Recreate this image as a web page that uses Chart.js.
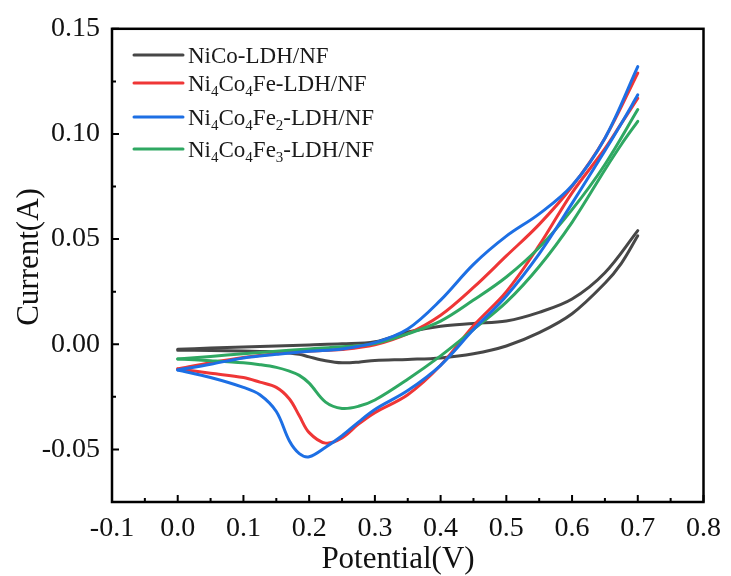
<!DOCTYPE html>
<html lang="en">
<head>
  <meta charset="UTF-8" />
  <title>CV curves</title>
  <script src="https://cdn.jsdelivr.net/npm/chart.js"></script>
  <style>
    body {
      margin: 0;
      background: #fff;
    }
    #cv {
      display: block;
    }
  </style>
</head>
<body>

<canvas id="cv" width="731" height="576"></canvas>

<script>
const seriesNames = ['NiCo-LDH/NF', 'Ni4Co4Fe-LDH/NF', 'Ni4Co4Fe2-LDH/NF', 'Ni4Co4Fe3-LDH/NF'];
const seriesColors = ['#474747', '#ef3636', '#1d6fe4', '#2fa862'];

// potential (V) of the forward and backward sweep
const potentialFwd = [0, 0.05, 0.1, 0.15, 0.2, 0.25, 0.3, 0.35, 0.4, 0.45, 0.5, 0.55, 0.6, 0.65, 0.7];
const potentialRev = [0.7, 0.675, 0.65, 0.6, 0.55, 0.5, 0.45, 0.4, 0.35, 0.3, 0.275, 0.25, 0.225, 0.2, 0.185, 0.17, 0.15, 0.125, 0.1, 0.05, 0];

// current (A)
const nicoFwd = [-0.0024, -0.0018, -0.0013, -0.0008, -0.0003, 0.0002, 0.0012, 0.0058, 0.0086, 0.0099, 0.0111, 0.0152, 0.0215, 0.034, 0.054];
const nicoRev = [0.0516, 0.0385, 0.029, 0.0145, 0.0055, -0.0008, -0.0045, -0.0065, -0.0072, -0.0077, -0.0085, -0.0088, -0.0078, -0.006, -0.0048, -0.0041, -0.0036, -0.0034, -0.0032, -0.003, -0.0028];

const fe1Fwd = [-0.0117, -0.0088, -0.0063, -0.0045, -0.0033, -0.0025, -0.0003, 0.005, 0.0138, 0.027, 0.042, 0.057, 0.075, 0.098, 0.129];
const fe1Rev = [0.117, 0.105, 0.093, 0.072, 0.047, 0.025, 0.0088, -0.010, -0.024, -0.0325, -0.038, -0.0445, -0.047, -0.042, -0.034, -0.026, -0.0205, -0.018, -0.0158, -0.0138, -0.0117];

const fe2Fwd = [-0.0122, -0.0095, -0.0065, -0.0048, -0.0033, -0.0022, 0.0008, 0.0073, 0.021, 0.038, 0.0514, 0.062, 0.0755, 0.098, 0.132];
const fe2Rev = [0.1186, 0.105, 0.092, 0.067, 0.043, 0.023, 0.007, -0.010, -0.022, -0.031, -0.037, -0.0435, -0.049, -0.0535, -0.052, -0.046, -0.032, -0.024, -0.0205, -0.0158, -0.0122];

const fe3Fwd = [-0.007, -0.0058, -0.0045, -0.0033, -0.0022, -0.0012, 0.0003, 0.005, 0.011, 0.021, 0.032, 0.046, 0.064, 0.0855, 0.1116];
const fe3Rev = [0.106, 0.095, 0.083, 0.058, 0.037, 0.020, 0.007, -0.0055, -0.0166, -0.0265, -0.0295, -0.0305, -0.0275, -0.0185, -0.0148, -0.0128, -0.011, -0.0097, -0.0088, -0.0078, -0.007];

const forward = [nicoFwd, fe1Fwd, fe2Fwd, fe3Fwd];
const reverse = [nicoRev, fe1Rev, fe2Rev, fe3Rev];
const drawOrder = [4, 3, 1, 2]; // blue on top, black at the back

const serif = "'Liberation Serif', 'Times New Roman', serif";
Chart.defaults.font.family = serif;
Chart.defaults.color = '#111';

function toPoints(xs, ys) {
  return xs.map((v, i) => ({ x: v, y: ys[i] }));
}

const datasets = [];
seriesNames.forEach((name, i) => {
  [toPoints(potentialFwd, forward[i]), toPoints(potentialRev, reverse[i])].forEach(pts => {
    datasets.push({
      label: name,
      data: pts,
      showLine: true,
      borderColor: seriesColors[i],
      backgroundColor: seriesColors[i],
      borderWidth: 3,
      pointRadius: 0,
      tension: 0.35,
      borderCapStyle: 'round',
      borderJoinStyle: 'round',
      order: drawOrder[i]
    });
  });
});

function isMajor(v, step) {
  const r = v / step;
  return Math.abs(r - Math.round(r)) < 1e-6;
}

// draw label text with digits as subscripts
function drawSubText(ctx, text, x, y) {
  let cx = x;
  for (const ch of text) {
    if (/[0-9]/.test(ch)) {
      ctx.font = '15px ' + serif;
      ctx.fillText(ch, cx, y + 5);
    } else {
      ctx.font = '23px ' + serif;
      ctx.fillText(ch, cx, y);
    }
    cx += ctx.measureText(ch).width;
  }
}

const frame = {
  id: 'frame',
  afterDraw(chart) {
    const { ctx, chartArea: a, scales: { x, y } } = chart;
    ctx.save();
    ctx.strokeStyle = '#000';
    ctx.lineWidth = 2.5;
    ctx.strokeRect(a.left, a.top, a.right - a.left, a.bottom - a.top);

    ctx.lineWidth = 2;
    ctx.beginPath();
    x.ticks.forEach(t => {
      const px = x.getPixelForValue(t.value);
      const len = isMajor(t.value, 0.1) ? 7 : 4;
      ctx.moveTo(px, a.bottom);
      ctx.lineTo(px, a.bottom - len);
    });
    y.ticks.forEach(t => {
      const py = y.getPixelForValue(t.value);
      const len = isMajor(t.value, 0.05) ? 7 : 4;
      ctx.moveTo(a.left, py);
      ctx.lineTo(a.left + len, py);
    });
    ctx.stroke();

    // axis titles
    ctx.fillStyle = '#111';
    ctx.font = '31px ' + serif;
    ctx.textAlign = 'center';
    ctx.textBaseline = 'alphabetic';
    ctx.fillText('Potential(V)', 398, 568);
    ctx.save();
    ctx.translate(38, 257);
    ctx.rotate(-Math.PI / 2);
    ctx.fillText('Current(A)', 0, 0);
    ctx.restore();

    // legend
    const rows = [55, 83, 117, 149];
    ctx.textAlign = 'left';
    seriesNames.forEach((name, i) => {
      ctx.strokeStyle = seriesColors[i];
      ctx.lineWidth = 3;
      ctx.lineCap = 'round';
      ctx.beginPath();
      ctx.moveTo(134, rows[i]);
      ctx.lineTo(183, rows[i]);
      ctx.stroke();
      ctx.fillStyle = '#1a1a1a';
      drawSubText(ctx, name, 188, rows[i] + 7.5);
    });
    ctx.restore();
  }
};

new Chart(document.getElementById('cv'), {
  type: 'scatter',
  data: { datasets: datasets },
  options: {
    responsive: false,
    animation: false,
    devicePixelRatio: 1,
    layout: { padding: { top: 22, right: 18, left: 0, bottom: 0 } },
    plugins: {
      legend: { display: false },
      tooltip: { enabled: false }
    },
    scales: {
      x: {
        type: 'linear',
        min: -0.1,
        max: 0.8,
        grid: { display: false, drawTicks: false },
        border: { display: false },
        ticks: {
          stepSize: 0.05,
          autoSkip: false,
          maxRotation: 0,
          padding: 10,
          color: '#111',
          font: { size: 28 },
          callback: v => isMajor(v, 0.1) ? v.toFixed(1) : ''
        },
        afterFit: s => { s.height = 74; }
      },
      y: {
        type: 'linear',
        min: -0.075,
        max: 0.15,
        grid: { display: false, drawTicks: false },
        border: { display: false },
        ticks: {
          stepSize: 0.025,
          autoSkip: false,
          padding: 12,
          color: '#111',
          font: { size: 28 },
          callback: v => isMajor(v, 0.05) ? v.toFixed(2) : ''
        },
        afterFit: s => { s.width = 112; }
      }
    }
  },
  plugins: [frame]
});
</script>

</body>
</html>
